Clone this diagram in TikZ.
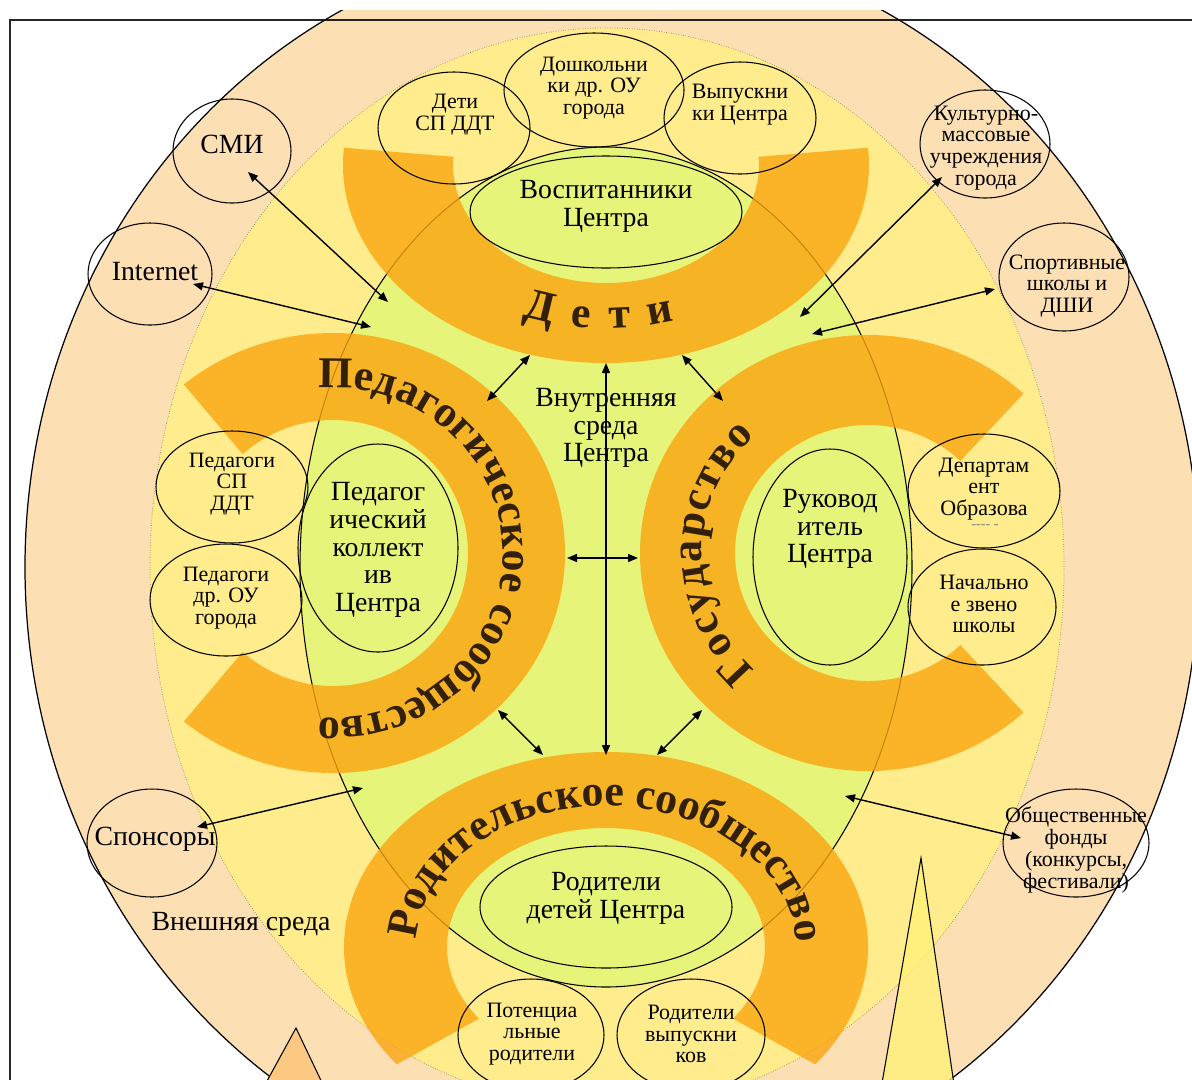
\documentclass[tikz,border=0pt]{standalone}
\usepackage{fontspec}
\setmainfont{Liberation Serif}
\usetikzlibrary{arrows.meta,decorations.text}
\definecolor{outerc}{RGB}{253,223,180}
\definecolor{midc}{RGB}{255,236,140}
\definecolor{innerc}{RGB}{230,244,122}
\definecolor{bandc}{RGB}{250,165,15}
\definecolor{wordc}{RGB}{50,32,8}
\newcommand{\bandfont}{\bfseries\fontsize{25}{26}\selectfont\color{wordc}}

\begin{document}
\begin{tikzpicture}[x=0.02cm,y=-0.02cm,
        band/.style={fill=bandc,fill opacity=0.8},
        ell/.style={draw,line width=0.6pt},
        big/.style={align=center,inner sep=0pt,font=\fontsize{15.8}{15.8}\selectfont},
        small/.style={align=center,inner sep=0pt,font=\fontsize{12.5}{12.4}\selectfont},
        arr/.style={<->,>={Triangle[length=2mm,width=1.6mm]},line width=0.8pt},
        word/.style={decorate,decoration={text along path,text align={fit to path},text={#1}}}]
                \useasboundingbox (0,0) rectangle (1192,1079);
                \clip (0,10) rectangle (1192,1079);
                \draw[fill=outerc,line width=0.7pt] (612,567) ellipse (587 and 627);
                \draw[line width=1.7pt,opacity=0.85] (10,1090) -- (10,20) -- (1200,20);
                \draw[fill=midc,draw={rgb,255:red,150;green,135;blue,90},densely dotted,line width=0.4pt] (607,568) ellipse (457 and 540);
                \draw[fill=innerc,line width=0.6pt] (606,567) ellipse (306 and 420);
                \draw[fill={rgb,255:red,253;green,200;blue,130},line width=0.6pt] (296,1028) -- (250,1112) -- (336,1112) -- cycle;
                \draw[fill={rgb,255:red,255;green,240;blue,120},fill opacity=0.8,line width=0.6pt] (921,858) -- (877,1112) -- (958,1112) -- cycle;
                \fill[band,shift={(606,165)}] (185:263 and 198) arc[start angle=185,end angle=-5,x radius=263,y radius=198]
                    -- (-4:153 and 118) arc[start angle=-4,end angle=184,x radius=153,y radius=118] -- cycle;
                \fill[band,shift={(333,553)}] (-130:232 and 220) arc[start angle=-130,end angle=130,x radius=232,y radius=220]
                    -- (132:135 and 133) arc[start angle=132,end angle=-132,x radius=135,y radius=133] -- cycle;
                \fill[band,shift={(868,553)}] (-47:228 and 218) arc[start angle=-47,end angle=-313,x radius=228,y radius=218]
                    -- (-314:133 and 128) arc[start angle=-314,end angle=-46,x radius=133,y radius=128] -- cycle;
                \fill[band,shift={(606,947)}] (37:262 and 195) arc[start angle=37,end angle=-217,x radius=262,y radius=195]
                    -- (-217:159 and 119) arc[start angle=-217,end angle=37,x radius=159,y radius=119] -- cycle;
                \draw[ell] (606,212) ellipse (136 and 56);
                \draw[ell] (454,128) ellipse (76 and 56);
                \draw[ell] (594,90) ellipse (90 and 57);
                \draw[ell] (740,118) ellipse (76 and 56);
                \draw[ell] (232,151) ellipse (59 and 52);
                \draw[ell] (150,274) ellipse (62 and 51);
                \draw[ell] (985,144) ellipse (65 and 54);
                \draw[ell] (1064,277) ellipse (65 and 54);
                \draw[ell] (232,487) ellipse (76 and 56);
                \draw[ell] (226,600) ellipse (76 and 56);
                \draw[ell] (378,548) ellipse (80 and 104);
                \draw[ell] (830,557) ellipse (77 and 108);
                \draw[ell] (984,491) ellipse (76 and 57);
                \draw[ell] (982,607) ellipse (74 and 58);
                \draw[ell] (152,843) ellipse (65 and 54);
                \draw[ell] (1076,843) ellipse (73 and 54);
                \draw[ell] (606,907) ellipse (126 and 61);
                \draw[ell] (531,1035) ellipse (73 and 56);
                \draw[ell] (691,1035) ellipse (74 and 56);
                \node[big] (vosp) at (606,206) {Воспитанники\\Центра};
                \node[small] (detisp) at (455,115) {Дети\\СП ДДТ};
                \node[small] (doshk) at (594,88) {Дошкольни\\ки др. ОУ\\города};
                \node[small] (vyp) at (740,105) {Выпускни\\ки Центра};
                \node[big] (smi) at (232,144) {СМИ};
                \node[big] (inet) at (155,272) {Internet};
                \node[small] (kult) at (986,148) {Культурно-\\массовые\\учреждения\\города};
                \node[small] (sport) at (1067,286) {Спортивные\\школы и\\ДШИ};
                \node[big] (vnutr) at (606,428) {Внутренняя\\среда\\Центра};
                \node[small] (pedsp) at (232,484) {Педагоги\\СП\\ДДТ};
                \node[small] (pedou) at (226,598) {Педагоги\\др. ОУ\\города};
                \node[big] (pedkol) at (378,550) {Педагог\\ический\\коллект\\ив\\Центра};
                \node[big] (ruk) at (830,529) {Руковод\\итель\\Центра};
                \node[small] (dep) at (984,489) {Департам\\ент\\Образова};
                \node[font=\fontsize{8}{8}\selectfont,text=gray] (depdash) at (985,527) {-{}-{}-{}-{} -};
                \node[small] (nach) at (984,604) {Начально\\е звено\\школы};
                \node[big] (spons) at (155,839) {Спонсоры};
                \node[small] (obsch) at (1076,850) {Общественные\\фонды\\(конкурсы,\\фестивали)};
                \node[big] (vnesh) at (241,924) {Внешняя среда};
                \node[big] (rodd) at (606,898) {Родители\\детей Центра};
                \node[small] (potenc) at (532,1034) {Потенциа\\льные\\родители};
                \node[small] (rodvyp) at (691,1034) {Родители\\выпускни\\ков};
                \path[word={|\bandfont|Д е т и},shift={(606,165)}] (112:222 and 163) arc[start angle=112,end angle=72,x radius=222,y radius=163];
                \path[word={|\bandfont|Педагогическое сообщество},shift={(333,553)}] (-95:170 and 165) arc[start angle=-95,end angle=95,x radius=170,y radius=165];
                \path[word={|\bandfont|Государство},shift={(868,553)}] (133:166 and 160) arc[start angle=133,end angle=227,x radius=166,y radius=160];
                \path[word={|\bandfont|Родительское сообщество},shift={(606,947)}] (183:190 and 141) arc[start angle=183,end angle=357,x radius=190,y radius=141];
                \coordinate (smi-e) at (248,172);
                \coordinate (smi-i) at (388,302);
                \coordinate (inet-e) at (193,284);
                \coordinate (inet-i) at (371,327);
                \coordinate (kult-e) at (942,177);
                \coordinate (kult-i) at (800,317);
                \coordinate (sport-e) at (995,289);
                \coordinate (sport-i) at (812,334);
                \coordinate (spons-e) at (197,827);
                \coordinate (spons-i) at (363,788);
                \coordinate (obsch-e) at (1021,838);
                \coordinate (obsch-i) at (845,796);
                \coordinate (deti-in) at (606,363);
                \coordinate (rod-in) at (606,755);
                \coordinate (ped-in) at (567,558);
                \coordinate (gos-in) at (638,558);
                \coordinate (deti-l) at (530,355);
                \coordinate (ped-t) at (487,401);
                \coordinate (deti-r) at (682,355);
                \coordinate (gos-t) at (723,401);
                \coordinate (ped-b) at (498,710);
                \coordinate (rod-l) at (543,755);
                \coordinate (gos-b) at (702,710);
                \coordinate (rod-r) at (657,755);
                \draw[arr] (smi-e) -- (smi-i);
                \draw[arr] (inet-e) -- (inet-i);
                \draw[arr] (kult-e) -- (kult-i);
                \draw[arr] (sport-e) -- (sport-i);
                \draw[arr] (spons-e) -- (spons-i);
                \draw[arr] (obsch-e) -- (obsch-i);
                \draw[arr] (deti-in) -- (rod-in);
                \draw[arr] (ped-in) -- (gos-in);
                \draw[arr] (deti-l) -- (ped-t);
                \draw[arr] (deti-r) -- (gos-t);
                \draw[arr] (ped-b) -- (rod-l);
                \draw[arr] (gos-b) -- (rod-r);
            \end{tikzpicture}
\end{document}
